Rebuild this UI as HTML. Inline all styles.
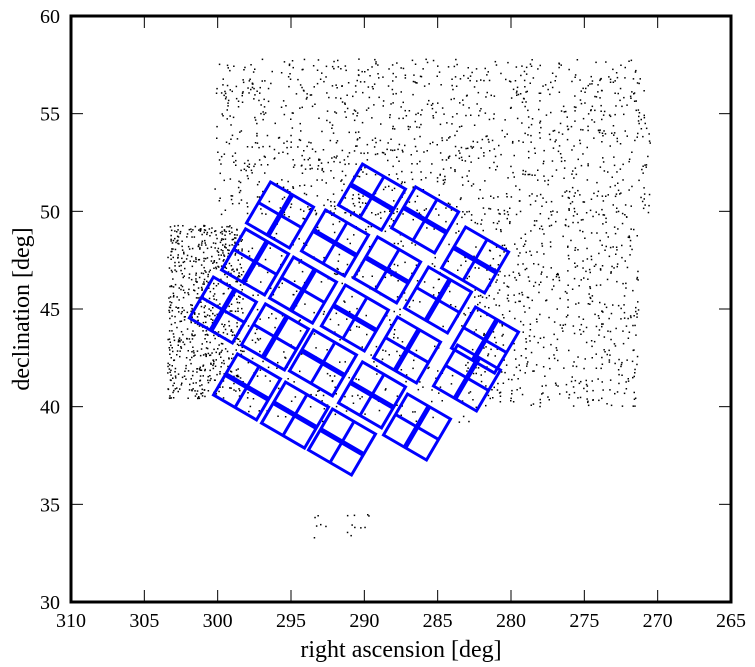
<!DOCTYPE html>
<html><head><meta charset="utf-8"><style>
html,body{margin:0;padding:0;background:#fff}
svg{display:block;font-family:"Liberation Serif",serif}
</style></head><body>
<svg id="chart" width="755" height="667" viewBox="0 0 755 667" xmlns="http://www.w3.org/2000/svg">
<g id="stars"></g>
<g id="modules"></g>
<g id="axes"></g>
<text x="401" y="657" font-size="24" text-anchor="middle">right ascension [deg]</text>
<text transform="translate(29,309) rotate(-90)" font-size="24" text-anchor="middle">declination [deg]</text>
</svg>
<script>
const xTicks = [310, 305, 300, 295, 290, 285, 280, 275, 270, 265];
const yTicks = [30, 35, 40, 45, 50, 55, 60];
// module centres (RA, Dec)
const moduleRA  = [289.48, 285.86, 282.45, 295.75, 292.0, 288.45, 284.98, 281.77, 297.45, 294.18, 290.64, 287.09, 283.0, 299.64, 296.09, 292.82, 289.48, 286.41, 298.0, 294.73, 291.52];
const moduleDec = [50.73, 49.56, 47.51, 49.81, 48.38, 47.0, 45.46, 43.41, 47.41, 45.97, 44.54, 42.9, 41.47, 44.95, 43.57, 42.24, 40.6, 38.96, 41.01, 39.57, 38.19];
// which inner divider is drawn thick: 1 = along long edge, 2 = along short edge
const moduleThick = [1,1,1,2,1,1,2,2,2,2,1,2,2,2,2,1,1,2,1,1,1];
// star field regions: [raMin, raMax, decMin, decMax, count]
const starRegions = [
  [270.5, 300.2, 49.8, 57.8, 1150],
  [298.2, 303.4, 40.4, 49.3, 720],
  [271.3, 282.3, 40.0, 50.0, 560],
  [282.3, 298.2, 39.2, 50.0, 420],
  [289.0, 293.8, 33.2, 34.5, 16]
];

const L=71,R=731,T=16,B=602;
const X = ra => L + (310 - ra) / 45 * (R - L);
const Y = dec => T + (60 - dec) / 30 * (B - T);
const NS="http://www.w3.org/2000/svg";
function mk(tag, attrs, parent){const e=document.createElementNS(NS,tag);for(const k in attrs)e.setAttribute(k,attrs[k]);parent.appendChild(e);return e;}

let seed=12345;
function rnd(){seed=(seed*1103515245+12345)%2147483648;return seed/2147483648;}
const sg=document.getElementById('stars');
starRegions.forEach(r=>{
  for(let i=0;i<r[4];i++){
    const ra=r[0]+rnd()*(r[1]-r[0]), de=r[2]+rnd()*(r[3]-r[2]);
    const s=mk('rect',{x:(X(ra)-0.7).toFixed(1),y:(Y(de)-0.7).toFixed(1),width:1.5,height:1.5,fill:'#000'},sg);
    
    
  }
});

const mg=document.getElementById('modules');
moduleRA.forEach((ra,i)=>{
  const cx=X(ra), cy=Y(moduleDec[i]);
  const e1=[43, 25];
  const e2=[-24, 41];
  const p=(a,b)=>[cx+a*e1[0]/2+b*e2[0]/2, cy+a*e1[1]/2+b*e2[1]/2];
  const g=mk('g',{},mg);
  
  
  const c=[p(-1,-1),p(1,-1),p(1,1),p(-1,1)];
  const poly=mk('polygon',{points:c.map(q=>q.map(v=>v.toFixed(1)).join(',')).join(' '),fill:'none',stroke:'#0000ff','stroke-width':3,'stroke-linejoin':'miter'},g);
  
  
  const a1=p(-1,0),a2=p(1,0),b1=p(0,-1),b2=p(0,1);
  const l1=mk('line',{x1:a1[0],y1:a1[1],x2:a2[0],y2:a2[1],stroke:'#0000ff','stroke-width':moduleThick[i]===1?5:3},g);
  
  
  const l2=mk('line',{x1:b1[0],y1:b1[1],x2:b2[0],y2:b2[1],stroke:'#0000ff','stroke-width':moduleThick[i]===2?5:3},g);
  
  
});

const ag=document.getElementById('axes');
xTicks.forEach(t=>{
  const x=X(t);
  const a=mk('line',{x1:x,y1:B,x2:x,y2:B-12,stroke:'#000','stroke-width':1},ag);
  
  
  const b=mk('line',{x1:x,y1:T,x2:x,y2:T+12,stroke:'#000','stroke-width':1},ag);
  
  
  const tx=mk('text',{x:x,y:B+25,'font-size':20,'text-anchor':'middle'},ag);
  tx.textContent=t;
  
  
});
yTicks.forEach(t=>{
  const y=Y(t);
  const a=mk('line',{x1:L,y1:y,x2:L+12,y2:y,stroke:'#000','stroke-width':1},ag);
  
  
  const b=mk('line',{x1:R,y1:y,x2:R-12,y2:y,stroke:'#000','stroke-width':1},ag);
  
  
  const tx=mk('text',{x:L-11,y:y+7,'font-size':20,'text-anchor':'end'},ag);
  tx.textContent=t;
  
  
});
const fr=mk('rect',{x:L,y:T,width:R-L,height:B-T,fill:'none',stroke:'#000','stroke-width':3},ag);


</script>
</body></html>
